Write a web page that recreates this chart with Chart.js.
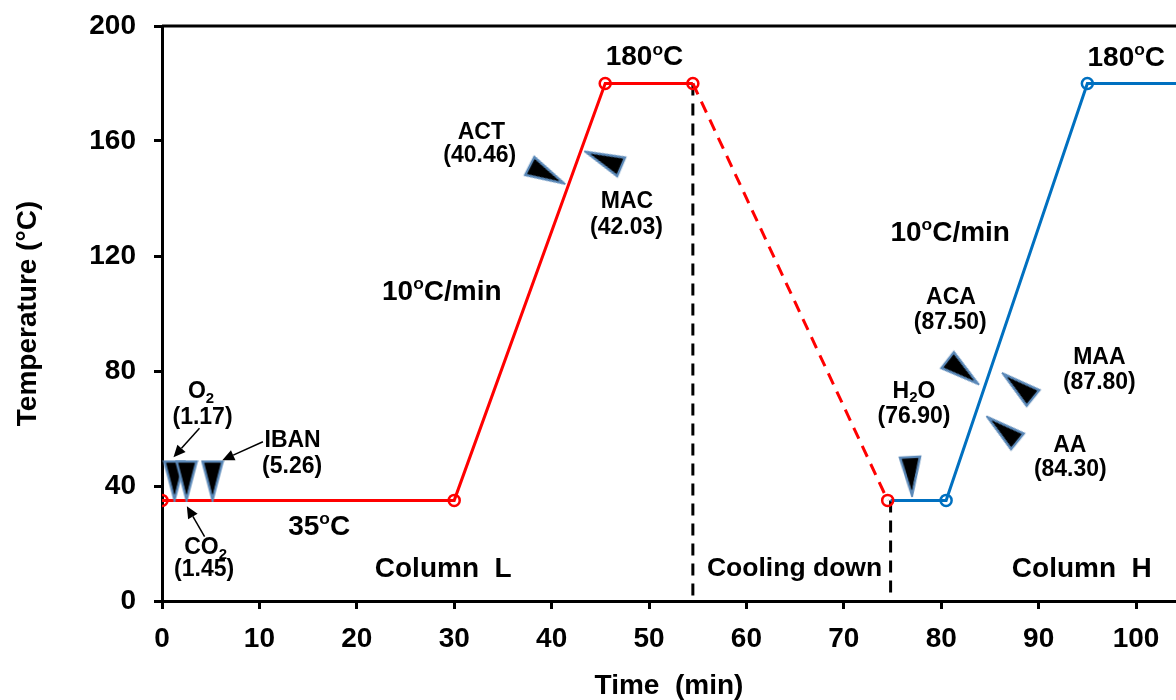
<!DOCTYPE html>
<html>
<head>
<script src="https://cdn.jsdelivr.net/npm/chart.js@4.4.0/dist/chart.umd.min.js"></script>
<style>
body { margin: 0; background: #fff; }
</style>
</head>
<body>
<canvas id="tempChart" width="1176" height="700"></canvas>

<script>
// oven program, column L (red) then column H (blue)
var redX = [0, 30, 45.5, 54.5, 74.5];
var redY = [35, 35, 180, 180, 35];
var blueX = [74.8, 80.5, 95, 110];
var blueY = [35, 35, 180, 180];

// dashed separators
var cutX = [54.5, 74.8];
var cutTop = [180, 35];

// peak markers (triangles)
var peakX = [1.28, 2.52, 5.19, 39.5, 45.33, 76.9, 82.2, 87.9, 86.3];
var peakY = [41.9, 41.9, 41.9, 148.3, 153.6, 43.4, 79.7, 74.8, 59.7];
var peakRot = [0, 0, 0, -63, 113, -3, -52, 129, 129];

// notes: _x = subscript, ^x = superscript
var noteText = ['180^oC', '180^oC', '10^oC/min', '10^oC/min', '35^oC', 'Column  L', 'Cooling down', 'Column  H',
	'O_2', '(1.17)', 'CO_2', '(1.45)', 'IBAN', '(5.26)', 'ACT', '(40.46)', 'MAC', '(42.03)',
	'H_2O', '(76.90)', 'ACA', '(87.50)', 'MAA', '(87.80)', 'AA', '(84.30)'];
var noteX = [49.53, 99.0, 28.72, 80.92, 16.13, 28.87, 64.94, 94.43,
	4.01, 4.16, 4.47, 4.32, 13.41, 13.36, 32.78, 32.62, 47.73, 47.68,
	77.2, 77.2, 81.0, 80.92, 96.23, 96.23, 93.2, 93.25];
var noteY = [189.0, 188.9, 107.5, 128.0, 25.7, 11.1, 11.1, 11.1,
	72.7, 63.65, 18.4, 10.8, 55.8, 46.6, 162.96, 154.8, 138.96, 129.7,
	72.9, 64.0, 105.6, 96.9, 84.5, 75.8, 53.9, 45.6];

// small arrows near the first peaks
var arrowX0 = [3.85, 10.36, 4.37];
var arrowY0 = [60.1, 55.4, 22.4];
var arrowX1 = [1.18, 6.19, 2.55];
var arrowY1 = [50.0, 49.0, 33.0];

var xTicks = [0, 10, 20, 30, 40, 50, 60, 70, 80, 90, 100];

var FONT = '"Liberation Sans", Arial, sans-serif';

function pts(xs, ys) {
	return xs.map(function(x, i) { return {x: x, y: ys[i]}; });
}

// triangle image, pointing down
var tri = document.createElement('canvas');
tri.width = 24; tri.height = 42;
(function() {
	var c = tri.getContext('2d');
	c.beginPath();
	c.moveTo(2, 2); c.lineTo(22, 2); c.lineTo(12, 40); c.closePath();
	c.fillStyle = '#000';
	c.fill();
	c.lineWidth = 2.5;
	c.strokeStyle = '#5a88b8';
	c.stroke();
	c.beginPath();
	c.moveTo(4.5, 3.5); c.lineTo(19.5, 3.5); c.lineTo(12, 35); c.closePath();
	c.fill();
})();

function noteSize(i) {
	if (i == 6) return 26.5;
	return i < 8 ? 28 : 23;
}

function drawRich(ctx, str, cx, cy, size) {
	var segs = [];
	str.split(/([_^].)/).forEach(function(p) {
		if (!p) return;
		if (p[0] == '_') segs.push({t: p[1], s: 0.65, dy: size * 0.3});
		else if (p[0] == '^') segs.push({t: p[1], s: 0.62, dy: -size * 0.28});
		else segs.push({t: p, s: 1, dy: 0});
	});
	var w = 0;
	segs.forEach(function(sg) {
		ctx.font = 'bold ' + (size * sg.s) + 'px ' + FONT;
		sg.w = ctx.measureText(sg.t).width;
		w += sg.w;
	});
	var x = cx - w / 2;
	segs.forEach(function(sg) {
		ctx.font = 'bold ' + (size * sg.s) + 'px ' + FONT;
		ctx.fillText(sg.t, x, cy + sg.dy);
		x += sg.w;
	});
}

var notesPlugin = {
	id: 'notes',
	beforeDatasetsDraw: function(chart) {
		var ctx = chart.ctx, a = chart.chartArea, ys = chart.scales.y;
		ctx.save();
		ctx.strokeStyle = '#000';
		ctx.lineWidth = 3;
		ctx.beginPath();
		ctx.moveTo(a.left, ys.getPixelForValue(200));
		ctx.lineTo(a.right, ys.getPixelForValue(200));
		ctx.stroke();
		ctx.restore();
	},
	afterDatasetsDraw: function(chart) {
		var ctx = chart.ctx, xs = chart.scales.x, ys = chart.scales.y;
		ctx.save();
		ctx.fillStyle = '#000';
		ctx.textBaseline = 'middle';
		ctx.textAlign = 'left';
		noteText.forEach(function(t, i) {
			drawRich(ctx, t, xs.getPixelForValue(noteX[i]), ys.getPixelForValue(noteY[i]), noteSize(i));
		});
		// arrows
		ctx.strokeStyle = '#000';
		ctx.lineWidth = 1.5;
		arrowX0.forEach(function(x0, i) {
			var px0 = xs.getPixelForValue(x0), py0 = ys.getPixelForValue(arrowY0[i]);
			var px1 = xs.getPixelForValue(arrowX1[i]), py1 = ys.getPixelForValue(arrowY1[i]);
			var ang = Math.atan2(py1 - py0, px1 - px0);
			var hl = 12, hw = 5.5;
			var bx = px1 - hl * Math.cos(ang), by = py1 - hl * Math.sin(ang);
			ctx.beginPath();
			ctx.moveTo(px0, py0);
			ctx.lineTo(bx, by);
			ctx.stroke();
			ctx.beginPath();
			ctx.moveTo(px1, py1);
			ctx.lineTo(bx + hw * Math.sin(ang), by - hw * Math.cos(ang));
			ctx.lineTo(bx - hw * Math.sin(ang), by + hw * Math.cos(ang));
			ctx.closePath();
			ctx.fill();
		});
		ctx.restore();
	}
};

var datasets = [
	{
		label: 'peaks',
		data: pts(peakX, peakY),
		showLine: false,
		pointStyle: tri,
		pointRadius: 12,
		pointRotation: peakRot
	},
	{
		label: 'Column L',
		data: pts(redX, redY),
		borderColor: '#ff0000',
		borderWidth: 3,
		pointStyle: 'circle',
		pointRadius: 5.5,
		pointBorderWidth: 2.5,
		pointBorderColor: '#ff0000',
		pointBackgroundColor: 'rgba(255,255,255,0)',
		segment: {
			borderDash: function(c) { return c.p0DataIndex == 3 ? [12, 8] : undefined; }
		}
	},
	{
		label: 'Column H',
		data: pts(blueX, blueY),
		borderColor: '#0070c0',
		borderWidth: 3,
		pointStyle: 'circle',
		pointRadius: [0, 5.5, 5.5, 0],
		pointBorderWidth: 2.5,
		pointBorderColor: '#0070c0',
		pointBackgroundColor: 'rgba(255,255,255,0)'
	}
];

cutX.forEach(function(x, i) {
	datasets.push({
		label: 'cut' + i,
		data: [{x: x, y: cutTop[i]}, {x: x, y: 0}],
		borderColor: '#000',
		borderWidth: 3,
		borderDash: [12, 8],
		pointRadius: 0
	});
});

var tickFont = {family: FONT, size: 28, weight: 'bold'};

function noPad(s) {
	s.paddingTop = 0; s.paddingBottom = 0; s.paddingLeft = 0; s.paddingRight = 0;
}

var tempChart = new Chart(document.getElementById('tempChart').getContext('2d'), {
	type: 'line',
	data: {datasets: datasets},
	options: {
		responsive: false,
		animation: false,
		layout: {autoPadding: false, padding: {top: 26, right: 0, bottom: 0, left: 0}},
		plugins: {legend: {display: false}, tooltip: {enabled: false}},
		scales: {
			x: {
				type: 'linear',
				min: 0,
				max: 104.1,
				afterBuildTicks: function(s) {
					s.ticks = xTicks.map(function(v) { return {value: v}; });
				},
				afterFit: function(s) { s.height = 99; noPad(s); },
				grid: {drawOnChartArea: false, tickLength: 8, tickWidth: 3, tickColor: '#000'},
				border: {color: '#000', width: 3},
				ticks: {color: '#000', font: tickFont, padding: 13, maxRotation: 0},
				title: {display: true, text: 'Time  (min)', color: '#000',
					font: {family: FONT, size: 28, weight: 'bold', lineHeight: 1}, padding: {top: 0, bottom: 0}}
			},
			y: {
				min: 0,
				max: 200,
				ticks: {stepSize: 40, color: '#000', font: tickFont, padding: 18},
				afterFit: function(s) { s.width = 162; noPad(s); },
				grid: {drawOnChartArea: false, tickLength: 8, tickWidth: 3, tickColor: '#000'},
				border: {color: '#000', width: 3},
				title: {display: true, text: 'Temperature (°C)', color: '#000',
					font: {family: FONT, size: 28, weight: 'bold', lineHeight: 1}, padding: {top: 14, bottom: 0}}
			}
		}
	},
	plugins: [notesPlugin]
});
</script>
</body>
</html>
